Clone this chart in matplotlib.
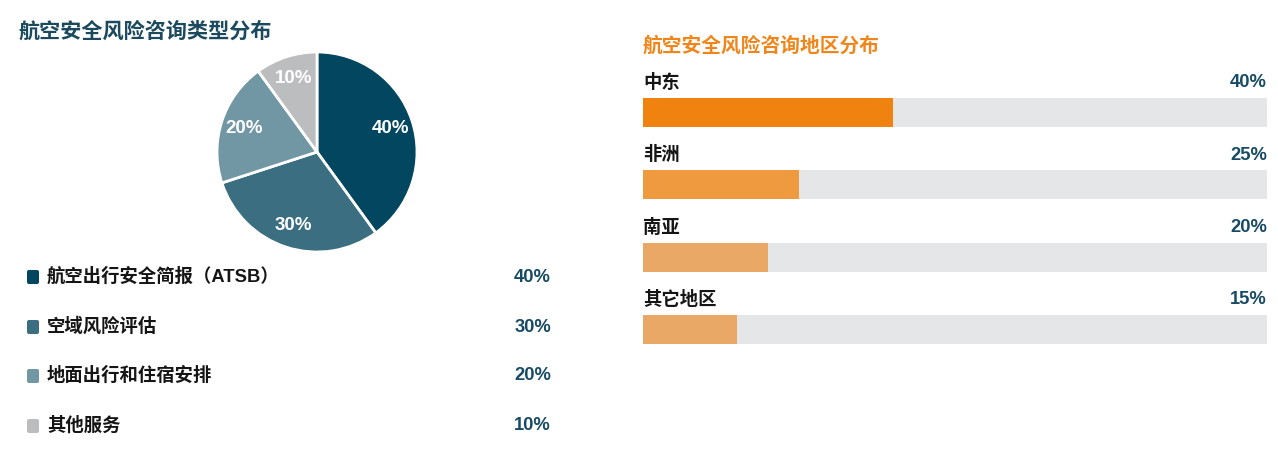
import matplotlib
matplotlib.use("Agg")
import matplotlib.pyplot as plt
from matplotlib.patches import FancyBboxPatch

plt.rcParams['font.family'] = ['Liberation Sans', 'Noto Sans CJK SC', 'DejaVu Sans']

# ---------------- data ----------------
type_title = "航空安全风险咨询类型分布"
type_labels = ["航空出行安全简报（ATSB）", "空域风险评估", "地面出行和住宿安排", "其他服务"]
type_values = [40, 30, 20, 10]
type_colors = ["#03465f", "#3a6e80", "#7197a5", "#bcbdbf"]

region_title = "航空安全风险咨询地区分布"
region_labels = ["中东", "非洲", "南亚", "其它地区"]
region_values = [40, 25, 20, 15]
region_colors = ["#f0820f", "#ef9a3e", "#eaa866", "#eaa866"]

W, H = 1278, 458
fig = plt.figure(figsize=(W / 100, H / 100), dpi=100)
fig.patch.set_facecolor("white")

def fx(px):
    return px / W

def fy(py):
    return 1 - py / H

# overlay axes in pixel coordinates for free text
ov = fig.add_axes([0, 0, 1, 1])
ov.set_xlim(0, W)
ov.set_ylim(H, 0)
ov.axis("off")

dark = "#1b4a5e"
pct_col = "#174b63"

# ---------------- left: pie ----------------
ov.text(18, 32, type_title, fontsize=15.2, fontweight="bold", color=dark,
        va="center", ha="left")

cx, cy, r = 317, 152, 100
pax = fig.add_axes([fx(cx - r), fy(cy + r), (2 * r) / W, (2 * r) / H])
wedges, texts, autotexts = pax.pie(
    type_values, colors=type_colors, startangle=90, counterclock=False,
    autopct=lambda p: f"{p:.0f}%", pctdistance=0.77,
    wedgeprops=dict(edgecolor="white", linewidth=2),
    textprops=dict(color="white", fontsize=13.5, fontweight="bold"))
pax.set_aspect("equal")
pax.set_xlim(-1.0, 1.0)
pax.set_ylim(-1.0, 1.0)

# legend rows
row_y = [277, 327, 376, 426]
for lab, val, col, y in zip(type_labels, type_values, type_colors, row_y):
    ov.add_patch(FancyBboxPatch((27, y - 7), 12, 14,
                                boxstyle="round,pad=0,rounding_size=2",
                                facecolor=col, edgecolor="none"))
    ov.text(47, y, lab, fontsize=13.2, fontweight="bold", color="#151515",
            va="center", ha="left")
    ov.text(551, y, f"{val}%", fontsize=13.2, fontweight="bold", color=pct_col,
            va="center", ha="right")

# ---------------- right: progress bars ----------------
ov.text(643, 46, region_title, fontsize=14.2, fontweight="bold", color="#f0861a",
        va="center", ha="left")

bx0, bx1 = 643, 1267
by0, by1 = 98, 344
bax = fig.add_axes([fx(bx0), fy(by1), (bx1 - bx0) / W, (by1 - by0) / H])
n = len(region_values)
ypos = list(range(n))
bh = 0.4
bax.barh(ypos, [100] * n, height=bh, color="#e5e6e8", edgecolor="none")
bax.barh(ypos, region_values, height=bh, color=region_colors, edgecolor="none")
bax.set_xlim(0, 100)
bax.set_ylim(n - 1 + bh / 2, -bh / 2)
bax.axis("off")
for i, (lab, val) in enumerate(zip(region_labels, region_values)):
    bax.text(0, i - 0.41, lab, fontsize=13.2, fontweight="bold", color="#151515",
             va="center", ha="left", clip_on=False)
    bax.text(100, i - 0.41, f"{val}%", fontsize=13.2, fontweight="bold", color=pct_col,
             va="center", ha="right", clip_on=False)

fig.savefig("out.png", dpi=100, facecolor="white")
